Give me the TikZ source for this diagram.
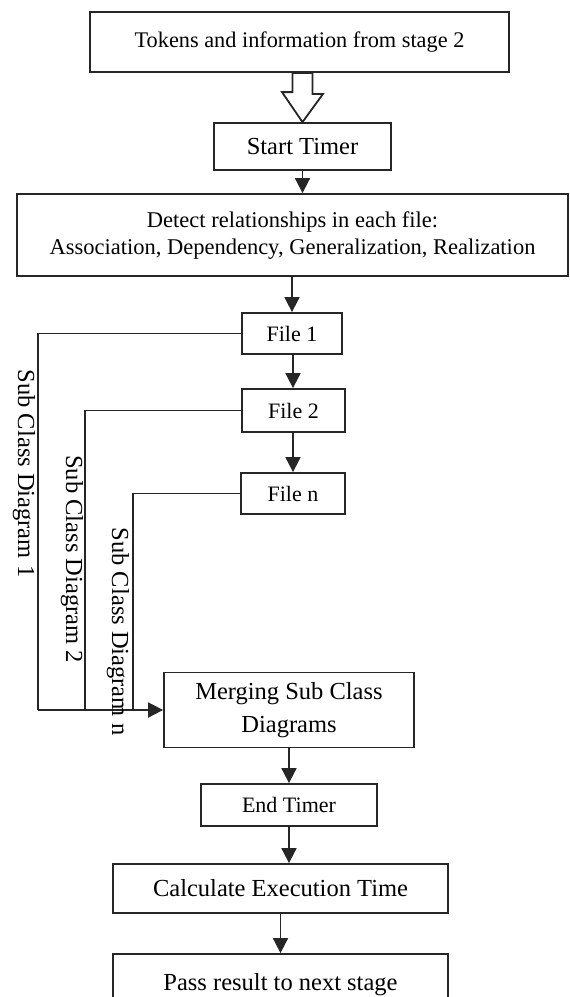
\documentclass[tikz,border=0pt]{standalone}
\usepackage{fontspec}
\setmainfont{Liberation Serif}
\usetikzlibrary{arrows.meta,calc}

\tikzset{
  box/.style={draw=black!85, line width=1.8pt, fill=white, inner sep=0pt, align=center},
  flow/.style={draw=black!85, line width=1.8pt, -{Triangle[length=15pt,width=15pt]}},
  link/.style={draw=black!85, line width=1.8pt},
  hollow/.style={draw=black!85, line width=1.8pt, fill=white, line join=miter},
  sidelabel/.style={rotate=-90, inner sep=0pt, font=\fontsize{24.5}{26}\selectfont},
}

\begin{document}
\begin{tikzpicture}[x=1pt, y=-1pt]
  \useasboundingbox (0,0) rectangle (570,997);
  \clip (0,0) rectangle (570,997);

  % main column of steps
  \node[box, minimum width=419pt, minimum height=60pt, font=\fontsize{22.3}{24}\selectfont]
    (src) at (299.5,42) {Tokens and information from stage 2};
  \node[box, minimum width=177pt, minimum height=47pt, font=\fontsize{24.5}{26}\selectfont]
    (start) at (302.5,146.5) {Start Timer};
  \node[box, minimum width=551pt, minimum height=82pt, font=\fontsize{22.5}{27}\selectfont]
    (detect) at (292.5,235) {Detect relationships in each file:\\Association, Dependency, Generalization, Realization};
  \node[box, minimum width=100pt, minimum height=41pt, font=\fontsize{22}{24}\selectfont]
    (f1) at (292,333.5) {File 1};
  \node[box, minimum width=103pt, minimum height=43pt, font=\fontsize{22}{24}\selectfont]
    (f2) at (293.5,410.5) {File 2};
  \node[box, minimum width=104pt, minimum height=41pt, font=\fontsize{22}{24}\selectfont]
    (fn) at (293,493.5) {File n};
  \node[box, minimum width=250pt, minimum height=75pt, font=\fontsize{24.5}{33}\selectfont]
    (merge) at (289,710) {Merging Sub Class\\Diagrams};
  \node[box, minimum width=176pt, minimum height=42pt, font=\fontsize{22}{24}\selectfont]
    (endt) at (289,805) {End Timer};
  \node[box, minimum width=335pt, minimum height=49pt, font=\fontsize{24.5}{26}\selectfont]
    (calc) at (280.5,888.5) {Calculate Execution Time};
  \node[box, minimum width=335pt, minimum height=62pt, font=\fontsize{24.5}{26}\selectfont]
    (pass) at (280.5,985) {Pass result to next stage};

  % hollow block arrow from the input box to the timer
  \draw[hollow] (start.north) -- ++(-20.5,-30) -- ++(10.5,0) -- (src.south -| 292.5,0)
    -- ++(20,0) -- ++(0,21) -- ++(10.5,0) -- cycle;

  % plain flow arrows
  \draw[flow] (start.south) -- (start.south |- detect.north);
  \draw[flow] (detect.south -| f1.north) -- (f1.north);
  \draw[flow] (f1.south -| 293,0) -- (f2.north -| 293,0);
  \draw[flow] (f2.south -| 293,0) -- (fn.north -| 293,0);
  \draw[flow] (merge.south) -- (endt.north);
  \draw[flow] (endt.south) -- (endt.south |- calc.north);
  \draw[flow] (calc.south) -- (pass.north);

  % sub class diagram feeds into the merge step
  \coordinate (j1) at (38,710);
  \coordinate (j2) at (85,710);
  \coordinate (j3) at (133,710);
  \draw[link] (f1.west) -| (j1);
  \draw[link] (f2.west) -| (j2);
  \draw[link] (fn.west) -| (j3);
  \draw[flow] (j1) -- (merge.west);

  \node[sidelabel] (l1) at (24,473.5) {Sub Class Diagram 1};
  \node[sidelabel] (l2) at (72,559) {Sub Class Diagram 2};
  \node[sidelabel] (l3) at (118,631.5) {Sub Class Diagram n};
\end{tikzpicture}
\end{document}
